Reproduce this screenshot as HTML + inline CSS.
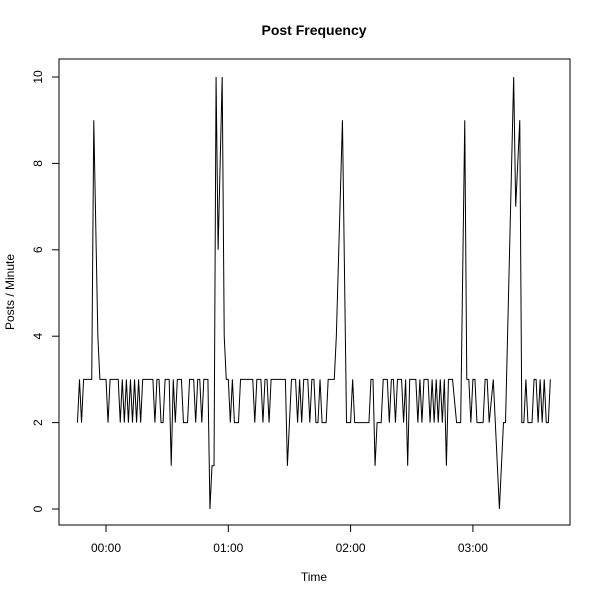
<!DOCTYPE html>
<html><head><meta charset="utf-8"><style>
body{margin:0;background:#fff}
svg{display:block;font-family:"Liberation Sans",sans-serif}
</style></head><body>
<svg width="600" height="600" viewBox="0 0 600 600">
<rect x="0" y="0" width="600" height="600" fill="#fff"/>
<text x="314" y="35" text-anchor="middle" font-weight="bold" font-size="14">Post Frequency</text>
<rect x="59" y="59" width="511" height="466" fill="none" stroke="#000" stroke-width="1"/>
<g id="xaxis"></g>
<g id="yaxis"></g>
<text x="314" y="581" text-anchor="middle" font-size="12">Time</text>
<text transform="translate(14,292) rotate(-90)" text-anchor="middle" font-size="12">Posts / Minute</text>
<path id="series" fill="none" stroke="#000" stroke-width="1"/>
</svg>
<script>
const times = [-14,-13,-12,-11,-7,-6,-4,-3,0,1,2,6,7,8,9,10,11,12,13,14,15,16,17,18,23,24,25,26,27,28,29,31,32,33,34,35,37,38,40,41,43,44,45,46,47,48,50,51,52,53,54,55,57,58,59,60,61,62,63,65,66,72,73,74,76,77,78,79,80,81,88,89,91,93,94,95,96,97,99,100,101,102,103,104,105,106,108,109,112,113,116,118,120,121,122,129,130,131,132,133,135,136,138,139,140,141,142,143,145,146,147,148,149,152,153,154,155,156,158,159,160,161,162,163,164,165,166,167,168,170,172,174,176,177,178,179,180,181,182,185,186,187,188,190,191,193,195,196,200,201,203,204,205,206,207,209,210,211,212,213,214,215,216,217,218];
const posts = [2,3,2,3,3,9,4,3,3,2,3,3,2,3,2,3,2,3,2,3,2,3,2,3,3,2,3,3,2,2,3,3,1,3,2,3,3,2,2,3,3,2,3,3,2,3,3,0,1,1,10,6,10,4,3,3,2,3,2,2,3,3,2,3,3,2,3,3,2,3,3,1,3,3,2,3,2,3,3,2,3,3,2,2,3,2,2,3,3,4,9,2,2,3,2,2,3,3,1,2,2,3,3,2,3,3,2,3,3,2,3,1,3,3,2,3,2,3,3,2,3,2,3,2,3,2,3,1,3,3,2,2,9,3,3,2,3,3,2,2,3,3,2,3,2,0,2,2,10,7,9,2,2,3,2,2,3,3,2,3,2,3,2,2,3];
const xTickMinutes = [0,60,120,180];
const xTickLabels = ["00:00","01:00","02:00","03:00"];
const yTicks = [0,2,4,6,8,10];

const xs = t => 106 + t * (122.3/60);
const ys = v => 509 - v * 43.2;
const NS = "http://www.w3.org/2000/svg";

let d = "";
for (let i = 0; i < times.length; i++) d += (i ? "L" : "M") + xs(times[i]).toFixed(2) + "," + ys(posts[i]).toFixed(2);
document.getElementById("series").setAttribute("d", d);

const xa = document.getElementById("xaxis");
const axl = document.createElementNS(NS, "line");
axl.setAttribute("x1", xs(xTickMinutes[0])); axl.setAttribute("x2", xs(xTickMinutes[xTickMinutes.length-1]));
axl.setAttribute("y1", 525); axl.setAttribute("y2", 525); axl.setAttribute("stroke", "#000");


xa.appendChild(axl);
xTickMinutes.forEach((m, i) => {
  const l = document.createElementNS(NS, "line");
  l.setAttribute("x1", xs(m)); l.setAttribute("x2", xs(m)); l.setAttribute("y1", 525); l.setAttribute("y2", 532); l.setAttribute("stroke", "#000");
  
  
  xa.appendChild(l);
  const t = document.createElementNS(NS, "text");
  t.setAttribute("x", xs(m)); t.setAttribute("y", 552); t.setAttribute("text-anchor", "middle"); t.setAttribute("font-size", "12");
  t.textContent = xTickLabels[i];
  
  
  xa.appendChild(t);
});

const ya = document.getElementById("yaxis");
const ayl = document.createElementNS(NS, "line");
ayl.setAttribute("x1", 59); ayl.setAttribute("x2", 59); ayl.setAttribute("y1", ys(yTicks[0])); ayl.setAttribute("y2", ys(yTicks[yTicks.length-1])); ayl.setAttribute("stroke", "#000");


ya.appendChild(ayl);
yTicks.forEach(v => {
  const l = document.createElementNS(NS, "line");
  l.setAttribute("x1", 52); l.setAttribute("x2", 59); l.setAttribute("y1", ys(v)); l.setAttribute("y2", ys(v)); l.setAttribute("stroke", "#000");
  
  
  ya.appendChild(l);
  const t = document.createElementNS(NS, "text");
  t.setAttribute("transform", "translate(42," + ys(v) + ") rotate(-90)"); t.setAttribute("text-anchor", "middle"); t.setAttribute("font-size", "12");
  t.textContent = v;
  
  
  ya.appendChild(t);
});
</script>
</body></html>
